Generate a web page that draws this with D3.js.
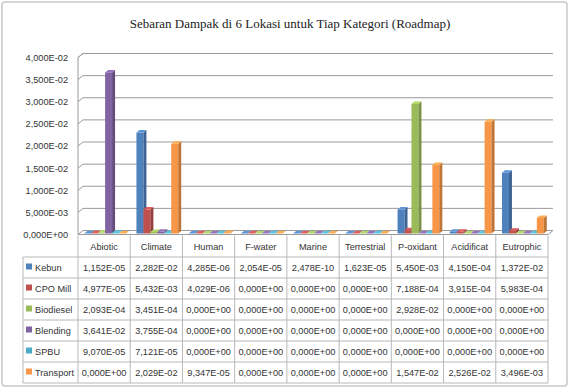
<!DOCTYPE html>
<html>
<head>
<meta charset="utf-8">
<script src="https://cdn.jsdelivr.net/npm/d3@7"></script>
<style>
  body { margin: 0; background: #fff; }
  svg text { font-family: "Liberation Sans", Arial, sans-serif; }
</style>
</head>
<body>
<svg id="chart"></svg>
<script>
// Data
const categories = ["Abiotic", "Climate", "Human", "F-water", "Marine", "Terrestrial", "P-oxidant", "Acidificat", "Eutrophic"];
const seriesNames = ["Kebun", "CPO Mill", "Biodiesel", "Blending", "SPBU", "Transport"];
const kebun     = [1.152e-5, 2.282e-2, 4.285e-6, 2.054e-5, 2.478e-10, 1.623e-5, 5.450e-3, 4.150e-4, 1.372e-2];
const cpoMill   = [4.977e-5, 5.432e-3, 4.029e-6, 0, 0, 0, 7.188e-4, 3.915e-4, 5.983e-4];
const biodiesel = [2.093e-4, 3.451e-4, 0, 0, 0, 0, 2.928e-2, 0, 0];
const blending  = [3.641e-2, 3.755e-4, 0, 0, 0, 0, 0, 0, 0];
const spbu      = [9.070e-5, 7.121e-5, 0, 0, 0, 0, 0, 0, 0];
const transport = [0, 2.029e-2, 9.347e-5, 0, 0, 0, 1.547e-2, 2.526e-2, 3.496e-3];
const yTicks = [0, 0.005, 0.01, 0.015, 0.02, 0.025, 0.03, 0.035, 0.04];
const title = "Sebaran Dampak di 6 Lokasi untuk Tiap  Kategori (Roadmap)";

const seriesValues = [kebun, cpoMill, biodiesel, blending, spbu, transport];
const colors = ["#4F81BD", "#C0504D", "#9BBB59", "#8064A2", "#4BACC6", "#F79646"];

const W = 569, H = 387;
const depth = { dx: 5, dy: -4 };   // wall / floor depth
const barDepth = { dx: 3, dy: -2.5 };
const smallFont = "9.2px";

// Excel style number: 1,152E-05
function sci(v) {
  const [m, e] = v.toExponential(3).split("e");
  const n = parseInt(e, 10);
  const ee = (n < 0 ? "-" : "+") + String(Math.abs(n)).padStart(2, "0");
  return m.replace(".", ",") + "E" + ee;
}

const svg = d3.select("#chart").attr("width", W).attr("height", H);

svg.append("rect")
  .attr("x", 2).attr("y", 2).attr("width", W - 4).attr("height", H - 3)
  .attr("rx", 3)
  .attr("fill", "#fff").attr("stroke", "#c8c8c8").attr("stroke-width", 1.5);

svg.append("text")
  .attr("x", 290).attr("y", 28)
  .attr("text-anchor", "middle")
  .style("font-family", "'Liberation Serif', 'Times New Roman', serif")
  .style("font-size", "13px")
  .attr("fill", "#222")
  .text(title);

// scales
const x = d3.scaleBand().domain(categories).range([78, 548]).padding(0);
const xs = d3.scaleBand().domain(seriesNames).range([0, x.bandwidth()]).paddingInner(0).paddingOuter(0.75);
const y = d3.scaleLinear().domain([0, 0.04]).range([234.5, 57.5]);

const x0 = x.range()[0], x1 = x.range()[1];

// floor
const floorY = y(0);
svg.append("path")
  .attr("d", `M${x0},${floorY}L${x1},${floorY}L${x1 + depth.dx},${floorY + depth.dy}L${x0 + depth.dx},${floorY + depth.dy}Z`)
  .attr("fill", "#fff").attr("stroke", "#9a9a9a").attr("stroke-width", 1);

// gridlines on left wall and back wall
const grid = svg.append("g").attr("fill", "none").attr("stroke", "#9a9a9a").attr("stroke-width", 1);
grid.selectAll("path").data(yTicks.slice(1)).join("path")
  .attr("d", d => `M${x0},${y(d)}L${x0 + depth.dx},${y(d) + depth.dy}L${x1 + depth.dx},${y(d) + depth.dy}`);
// left wall front edge
grid.append("path")
  .attr("d", `M${x0},${floorY}L${x0},${y(0.04)}L${x0 + depth.dx},${y(0.04) + depth.dy}`);

// y axis labels
const yAxis = svg.append("g")
  .attr("transform", `translate(${x0 - 8},0)`)
  .call(d3.axisLeft(y).tickValues(yTicks).tickSize(0).tickPadding(2).tickFormat(sci));
yAxis.select(".domain").remove();
yAxis.selectAll("text")
  .style("font-family", "'Liberation Sans', Arial, sans-serif")
  .style("font-size", smallFont).attr("fill", "#333");

// bars (3D columns)
const bars = [];
seriesNames.forEach((s, si) => {
  seriesValues[si].forEach((v, ci) => {
    bars.push({ s, si, cat: categories[ci], v });
  });
});

const bx = d => x(d.cat) + xs(d.s) + 1;
const by0 = floorY - 1;
const bw = xs.bandwidth();

const barG = svg.append("g").selectAll("g").data(bars).join("g");
// front face
barG.append("rect")
  .attr("x", bx)
  .attr("y", d => y(d.v) - 1)
  .attr("width", bw)
  .attr("height", d => Math.max(0, by0 - (y(d.v) - 1)))
  .attr("fill", d => colors[d.si]);
// side face
barG.append("path")
  .attr("d", d => {
    const X = bx(d) + bw, top = y(d.v) - 1;
    return `M${X},${by0}L${X + barDepth.dx},${by0 + barDepth.dy}L${X + barDepth.dx},${top + barDepth.dy}L${X},${top}Z`;
  })
  .attr("fill", d => d3.color(colors[d.si]).darker(0.7));
// top face
barG.append("path")
  .attr("d", d => {
    const X = bx(d), top = y(d.v) - 1;
    return `M${X},${top}L${X + bw},${top}L${X + bw + barDepth.dx},${top + barDepth.dy}L${X + barDepth.dx},${top + barDepth.dy}Z`;
  })
  .attr("fill", d => d3.color(colors[d.si]).brighter(0.4));

// data table
const tableTop = 257, tableBottom = 383, legendLeft = 23;
const row = d3.scaleBand().domain(seriesNames).range([tableTop, tableBottom]);
const tbl = svg.append("g");
const lineColor = "#b8b8b8";

// horizontal lines
tbl.selectAll("line.h").data(d3.range(seriesNames.length + 1)).join("line")
  .attr("class", "h")
  .attr("x1", legendLeft).attr("x2", x1)
  .attr("y1", i => tableTop + i * row.step()).attr("y2", i => tableTop + i * row.step())
  .attr("stroke", lineColor);
// vertical lines (category boundaries extend through header row)
tbl.selectAll("line.v").data(d3.range(categories.length + 1)).join("line")
  .attr("class", "v")
  .attr("x1", i => x0 + i * x.step()).attr("x2", i => x0 + i * x.step())
  .attr("y1", floorY + 1).attr("y2", tableBottom)
  .attr("stroke", lineColor);
tbl.append("line")
  .attr("x1", legendLeft).attr("x2", legendLeft)
  .attr("y1", tableTop).attr("y2", tableBottom)
  .attr("stroke", lineColor);

// header
tbl.selectAll("text.hd").data(categories).join("text")
  .attr("class", "hd")
  .attr("x", d => x(d) + x.bandwidth() / 2)
  .attr("y", (floorY + tableTop) / 2 + 4.5)
  .attr("text-anchor", "middle")
  .style("font-size", smallFont).attr("fill", "#333")
  .text(d => d);

// legend keys and names
const legRows = tbl.selectAll("g.lr").data(seriesNames).join("g").attr("class", "lr")
  .attr("transform", d => `translate(0,${row(d) + row.bandwidth() / 2})`);
legRows.append("rect")
  .attr("x", legendLeft + 3).attr("y", -4)
  .attr("width", 6).attr("height", 6)
  .attr("fill", (d, i) => colors[i]);
legRows.append("text")
  .attr("x", legendLeft + 12).attr("y", 3.2)
  .style("font-size", smallFont).attr("fill", "#333")
  .text(d => d);

// value cells
const cells = [];
seriesNames.forEach((s, si) => categories.forEach((c, ci) => cells.push({ s, c, v: seriesValues[si][ci] })));
tbl.selectAll("text.cv").data(cells).join("text")
  .attr("class", "cv")
  .attr("x", d => x(d.c) + x.bandwidth() / 2)
  .attr("y", d => row(d.s) + row.bandwidth() / 2 + 3.2)
  .attr("text-anchor", "middle")
  .style("font-size", smallFont).attr("fill", "#333")
  .text(d => sci(d.v));
</script>
</body>
</html>
